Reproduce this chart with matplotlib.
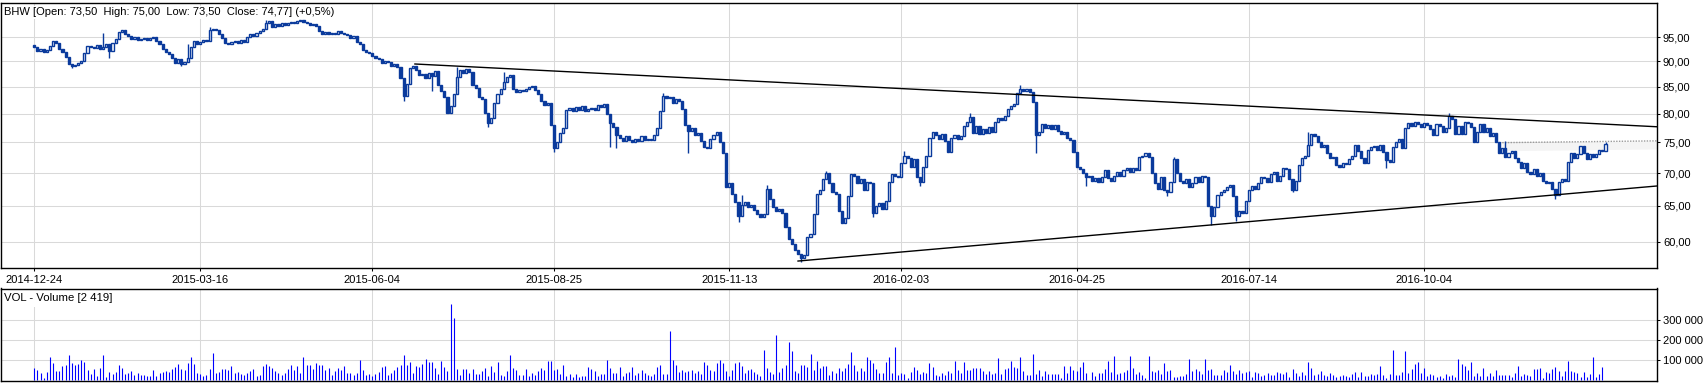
import numpy as np
import matplotlib
matplotlib.use("Agg")
import matplotlib.pyplot as plt
from matplotlib.ticker import FixedLocator, FuncFormatter, NullLocator

plt.rcParams['font.family'] = ['Liberation Sans', 'DejaVu Sans']

# ---------------- data ----------------
ticker_name = "BHW"
last_open, last_high, last_low, last_close, last_change = 73.50, 75.00, 73.50, 74.77, 0.5
last_volume = 2419

first_open = 93.4
close = [
    93.0, 92.2, 92.6, 92.0, 92.4, 93.2, 94.2, 93.8, 92.6, 92.0,
    90.8, 89.4, 89.0, 89.3, 89.6, 90.0, 91.8, 93.2, 93.0, 92.8,
    93.4, 92.6, 93.0, 93.6, 92.2, 93.8, 94.6, 96.2, 96.6, 95.6,
    95.2, 94.6, 95.0, 94.4, 94.6, 94.8, 94.4, 94.8, 95.0, 94.2,
    93.6, 92.6, 92.0, 91.4, 90.6, 89.6, 90.4, 89.4, 89.8, 90.6,
    93.0, 94.2, 93.6, 94.0, 94.4, 94.2, 96.6, 96.8, 96.6, 95.8,
    94.8, 93.8, 93.6, 94.0, 94.2, 93.8, 94.4, 94.0, 95.0, 95.6,
    95.2, 96.0, 96.4, 96.8, 98.2, 98.6, 97.2, 97.8, 97.4, 98.0,
    97.6, 98.0, 98.4, 98.2, 98.6, 98.8, 98.4, 98.2, 97.6, 97.8,
    97.4, 96.4, 95.8, 96.2, 95.6, 96.0, 95.8, 96.4, 96.0, 95.6,
    95.4, 94.8, 95.2, 94.0, 93.6, 92.4, 92.0, 91.6, 91.0, 90.6,
    90.4, 89.6, 90.0, 89.8, 89.0, 89.4, 88.8, 86.6, 83.2, 85.6,
    88.6, 89.0, 88.2, 87.2, 87.4, 86.6, 87.6, 87.0, 88.0, 85.4,
    84.2, 83.0, 80.2, 81.4, 83.6, 86.8, 88.2, 87.6, 88.4, 87.8,
    85.4, 84.8, 83.0, 82.6, 80.2, 78.4, 79.2, 82.0, 83.6, 84.6,
    86.0, 86.8, 87.2, 84.6, 84.0, 84.4, 84.2, 84.6, 85.0, 85.2,
    84.4, 83.6, 82.4, 81.6, 82.0, 78.0, 74.0, 75.0, 76.6, 77.4,
    80.6, 81.0, 80.4, 81.2, 80.6, 81.4, 80.4, 80.8, 81.0, 80.6,
    81.6, 81.2, 81.8, 80.0, 78.4, 77.6, 76.2, 75.8, 75.2, 76.0,
    75.4, 75.0, 75.6, 75.2, 76.0, 75.4, 75.6, 75.4, 76.2, 77.4,
    80.4, 83.2, 82.8, 83.0, 82.0, 82.6, 82.4, 80.8, 78.0, 77.0,
    77.4, 76.2, 76.6, 75.2, 74.2, 74.0, 75.6, 76.2, 76.8, 75.0,
    73.2, 67.8, 68.4, 66.8, 65.6, 63.6, 65.2, 65.6, 64.8, 65.2,
    64.4, 63.8, 63.4, 63.8, 67.6, 66.0, 64.8, 64.2, 64.6, 64.0,
    62.0, 60.4, 59.6, 58.8, 58.4, 57.8, 58.2, 60.6, 61.0, 63.8,
    66.8, 67.4, 69.0, 70.0, 68.4, 67.0, 66.8, 64.2, 62.6, 63.2,
    66.4, 69.8, 69.6, 68.4, 69.0, 67.4, 68.6, 68.4, 64.0, 65.0,
    65.4, 64.6, 65.8, 68.6, 69.8, 69.6, 69.4, 71.6, 72.8, 72.4,
    71.0, 72.2, 69.4, 68.6, 71.0, 72.8, 75.8, 76.8, 76.2, 75.6,
    76.4, 75.2, 73.4, 75.8, 76.2, 75.6, 76.0, 77.8, 78.6, 79.4,
    76.6, 77.8, 76.4, 77.2, 76.6, 77.6, 76.8, 78.6, 79.2, 78.8,
    79.6, 80.8, 81.4, 81.8, 83.8, 84.6, 84.2, 84.6, 84.0, 82.2,
    76.2, 76.8, 78.2, 77.4, 78.0, 77.2, 78.0, 77.0, 76.4, 76.8,
    75.8, 75.4, 73.4, 71.0, 70.6, 70.0, 69.4, 69.6, 68.8, 69.2,
    68.6, 69.4, 70.4, 69.2, 68.8, 69.6, 70.2, 69.6, 70.4, 70.8,
    70.2, 70.8, 70.4, 72.6, 72.8, 73.2, 72.6, 70.0, 68.4, 67.6,
    69.4, 67.4, 67.0, 68.6, 72.2, 70.0, 68.8, 68.4, 69.0, 67.8,
    68.4, 69.4, 68.6, 69.6, 69.4, 65.0, 63.6, 64.8, 66.6, 67.0,
    67.4, 67.8, 68.2, 66.4, 63.6, 64.2, 64.0, 65.8, 67.4, 68.0,
    67.6, 68.4, 69.4, 69.2, 68.6, 69.8, 70.2, 68.8, 69.6, 70.8,
    70.6, 69.0, 67.4, 68.8, 71.2, 72.4, 72.8, 74.6, 76.4, 76.0,
    75.0, 74.2, 74.6, 73.2, 72.4, 72.6, 71.2, 71.0, 71.6, 71.4,
    72.2, 72.8, 74.6, 73.6, 72.4, 71.6, 73.8, 74.2, 74.4, 73.8,
    74.6, 73.4, 72.0, 71.8, 74.2, 75.0, 75.6, 74.0, 77.4, 78.4,
    77.8, 78.6, 78.2, 77.6, 78.4, 78.0, 77.2, 76.2, 78.2, 77.8,
    76.8, 77.4, 79.6, 79.0, 76.4, 77.8, 76.4, 78.6, 78.4, 77.6,
    75.0, 76.8, 78.2, 76.8, 77.4, 76.0, 76.6, 75.0, 73.2, 74.0,
    72.6, 73.2, 73.6, 72.4, 71.8, 70.8, 71.6, 70.2, 69.8, 70.6,
    69.6, 70.0, 68.8, 68.4, 68.6, 67.6, 66.6, 68.6, 69.0, 68.8,
    71.8, 73.2, 72.4, 73.0, 74.4, 73.2, 72.2, 73.0, 72.6, 73.0,
    73.8, 73.5, 74.77,
]

wick_high = {22: 96.0, 49: 93.6, 201: 83.8, 234: 68.2, 253: 70.3, 315: 85.3,
             452: 80.2, 502: 75.0, 74: 98.8, 56: 97.3, 135: 88.9, 150: 87.8,
             226: 66.6, 278: 73.6, 299: 80.2, 364: 72.6, 407: 76.8, 470: 75.2}
wick_low = {24: 90.6, 127: 84.2, 145: 77.6, 166: 73.4, 186: 74.0, 245: 57.3,
            320: 73.3, 376: 62.3, 384: 62.8, 486: 66.0, 118: 82.4, 225: 62.7,
            12: 88.6, 47: 89.0, 184: 74.2, 209: 73.2, 268: 63.4, 283: 68.0,
            336: 68.0, 362: 66.5, 402: 67.0, 432: 70.8}

volume_k = [
    63, 52, 35, 13, 42, 118, 88, 47, 47, 72,
    78, 127, 88, 78, 83, 102, 92, 52, 30, 58,
    22, 63, 127, 17, 42, 30, 42, 75, 62, 30,
    38, 45, 27, 35, 25, 28, 22, 23, 52, 23,
    37, 42, 45, 43, 58, 65, 82, 57, 52, 88,
    117, 80, 35, 30, 22, 25, 58, 137, 37, 43,
    58, 58, 53, 72, 38, 42, 30, 28, 38, 47,
    55, 22, 25, 72, 83, 72, 63, 47, 38, 25,
    35, 55, 77, 53, 72, 35, 118, 77, 77, 55,
    88, 77, 77, 52, 63, 27, 47, 63, 52, 72,
    38, 35, 25, 35, 103, 52, 25, 30, 22, 30,
    42, 68, 72, 27, 38, 52, 67, 78, 127, 78,
    92, 38, 72,
    67, 82, 107, 92, 92, 62, 32, 97, 67, 47,
    382, 312, 57, 27, 57, 57, 37, 57, 32, 32,
    45, 62, 22, 72, 42, 92, 27, 22, 47, 127,
    62, 52, 27, 27, 57, 22, 37, 27, 47, 62,
    52, 97, 97, 52, 57, 32, 77, 22, 32, 17,
    32, 15, 22, 22, 67, 57, 47, 22, 32, 32,
    102, 62, 37, 37, 67, 22, 37, 42, 67, 27,
    37, 52, 37, 27, 22, 32, 67, 77, 32, 32,
    247, 102, 77, 42, 52, 42, 47, 52, 37, 47,
    32, 92, 77, 52, 47, 87, 102, 87, 47, 22,
    52, 87, 92, 72, 37, 52, 57, 42, 32, 22,
    152, 62, 42, 32, 227, 42, 62, 77, 192, 147,
    47, 37, 77, 77, 67, 132, 52, 97, 62, 72,
    72, 27, 47, 37, 62, 47, 62, 82, 142, 77,
    47, 62, 47, 117, 102, 87, 57, 37, 37, 92,
    117, 37, 167, 27, 37, 32, 12, 42, 67, 52,
    32, 42, 37, 87, 67, 27, 22, 37, 27, 47,
    37, 97, 52, 37, 92, 52, 52, 62, 62, 62,
    47, 32, 47, 32, 37, 112, 32, 57, 62, 97,
    67, 62, 117, 47, 27, 27, 132, 32, 52, 22,
    47, 32, 32, 32, 32, 12, 72, 37, 72, 52,
    47, 67, 92, 37, 3, 42, 22, 37, 37, 57,
    97, 42, 122, 32, 37, 42, 52, 122, 62, 32,
    42, 27, 12, 122, 47, 42, 52, 32, 87, 47,
    52, 17, 17, 22, 22, 32, 107, 47, 57, 47,
    32, 107, 52, 57, 27, 27, 27, 52, 42, 77,
    47,
    32, 52, 37, 42, 47, 17, 42, 37, 22, 27,
    37, 27, 27, 42, 37, 32, 42, 17, 57, 37,
    22, 42, 27, 92, 62, 27, 32, 47, 27, 22,
    37, 27, 17, 22, 27, 22, 17, 32, 42, 17,
    42, 22, 22, 32, 27, 32, 72, 27, 12, 32,
    152, 27, 27, 42, 147, 37, 57, 82, 92, 37,
    62, 22, 32, 27, 17, 22, 12, 32, 22, 27,
    17, 107, 82, 72, 52, 92, 22, 37, 22, 62,
    22, 37, 22, 52, 27, 25, 27, 27, 17, 37, 72,
    22, 32, 27, 22, 57, 57, 62, 12, 42, 37,
    57, 67, 47, 22, 47, 97, 47, 42, 37, 17,
    42, 17, 32, 117, 17, 32, 67,
    2.419,
]

date_tick_idx = [0, 53, 108, 166, 222, 277, 333, 388, 444]
date_tick_labels = ['2014-12-24', '2015-03-16', '2015-06-04', '2015-08-25', '2015-11-13',
                    '2016-02-03', '2016-04-25', '2016-07-14', '2016-10-04']
price_ticks = [60, 65, 70, 75, 80, 85, 90, 95]
volume_ticks = [100000, 200000, 300000]

upper_trend_x, upper_trend_y = [121.6, 518.3], [89.46, 77.68]
lower_trend_x, lower_trend_y = [244.0, 518.3], [57.42, 67.98]
resist_x, resist_y = [469.0, 518.3], [74.95, 75.25]

# ---------------- layout ----------------
W, H = 1704, 384
fig = plt.figure(figsize=(W / 100, H / 100), dpi=100)


def px_axes(l, t, r, b):
    return [l / W, 1 - b / H, (r - l) / W, (b - t) / H]


ax = fig.add_axes(px_axes(0.5, 2.7, 1656.7, 268.3))
axv = fig.add_axes(px_axes(0.5, 288.5, 1656.7, 380.7))

dark = '#0a3a9c'
bright = '#0000ff'
grid_c = '#d9d9d9'

c = np.array(close, dtype=float)
n = len(c)
x = np.arange(n)
o = np.concatenate([[first_open], c[:-1]])
hi = np.maximum(o, c)
lo = np.minimum(o, c)
for k, v in wick_high.items():
    if k < n:
        hi[k] = max(hi[k], v)
for k, v in wick_low.items():
    if k < n:
        lo[k] = min(lo[k], v)

ax.set_yscale('log')
xl = ((0.5 - 34.3) / 3.13, (1656.7 - 34.3) / 3.13)

# resistance band + dotted line
ax.fill_between(resist_x, resist_y, [val * 0.982 for val in resist_y], color='#f4f4f4', lw=0, zorder=1)
ax.plot(resist_x, resist_y, color='#9a9a9a', lw=1.0, ls=(0, (1, 1)), zorder=2)

ax.vlines(x, lo, hi, color=dark, lw=1.0, zorder=3)
up = c >= o
body_up = np.maximum(c[up] - o[up], 0.08)
body_dn = np.maximum(o[~up] - c[~up], 0.08)
ax.bar(x[up], body_up, bottom=o[up], width=0.68, facecolor='white', edgecolor=dark,
       linewidth=1.0, zorder=4)
ax.bar(x[~up], body_dn, bottom=c[~up], width=0.68, facecolor=dark, edgecolor=dark,
       linewidth=1.0, zorder=4)

ax.plot(upper_trend_x, upper_trend_y, color='black', lw=1.0, zorder=5)
ax.plot(lower_trend_x, lower_trend_y, color='black', lw=1.0, zorder=5)

ax.set_xlim(*xl)
ax.set_ylim(56.49, 102.69)
ax.yaxis.set_major_locator(FixedLocator(price_ticks))
ax.yaxis.set_minor_locator(NullLocator())
ax.yaxis.set_major_formatter(FuncFormatter(lambda val, p: f"{val:.2f}".replace('.', ',')))
ax.yaxis.tick_right()
ax.set_xticks(date_tick_idx)
ax.set_xticklabels(date_tick_labels)
ax.tick_params(axis='y', which='both', direction='out', length=2.5, width=0.75, pad=2,
               labelsize=8, left=False, right=True)
ax.tick_params(axis='x', direction='out', length=2.5, width=0.75, pad=2.5, labelsize=8)
ax.grid(True, color=grid_c, lw=0.75)
ax.set_axisbelow(True)

# volume
vv = np.array(volume_k, dtype=float) * 1000
xv = np.arange(len(vv))
axv.vlines(xv, 0, vv, color=bright, lw=0.8, zorder=3)
axv.set_xlim(*xl)
axv.set_ylim(-2000, 459000)
axv.yaxis.set_major_locator(FixedLocator(volume_ticks))
axv.yaxis.set_major_formatter(FuncFormatter(lambda val, p: f"{int(val):,}".replace(',', ' ')))
axv.yaxis.tick_right()
axv.set_xticks(date_tick_idx)
axv.set_xticklabels([])
axv.tick_params(axis='x', length=0)
axv.tick_params(axis='y', direction='out', length=2.5, width=0.75, pad=2, labelsize=8,
                left=False, right=True)
axv.grid(True, color=grid_c, lw=0.75)
axv.set_axisbelow(True)

for a in (ax, axv):
    for s in a.spines.values():
        s.set_color('black')
        s.set_linewidth(1.0)


def fmt(val):
    return f"{val:.2f}".replace('.', ',')


title = (f"{ticker_name} [Open: {fmt(last_open)}  High: {fmt(last_high)}  "
         f"Low: {fmt(last_low)}  Close: {fmt(last_close)}] (+{str(last_change).replace('.', ',')}%)")
ax.text(3.5 / (1656.2), 1 - 9.5 / 265.6, title, transform=ax.transAxes, ha='left', va='center',
        fontsize=8.0, zorder=2.4,
        bbox=dict(facecolor='white', edgecolor='none', pad=1.2))
vol_title = f"VOL - Volume [{last_volume:,}]".replace(',', ' ')
axv.text(3.5 / (1656.2), 1 - 9.5 / 92.2, vol_title, transform=axv.transAxes, ha='left',
         va='center', fontsize=8.2, zorder=2.4,
         bbox=dict(facecolor='white', edgecolor='none', pad=3.0))

fig.savefig('out.png', dpi=100)
